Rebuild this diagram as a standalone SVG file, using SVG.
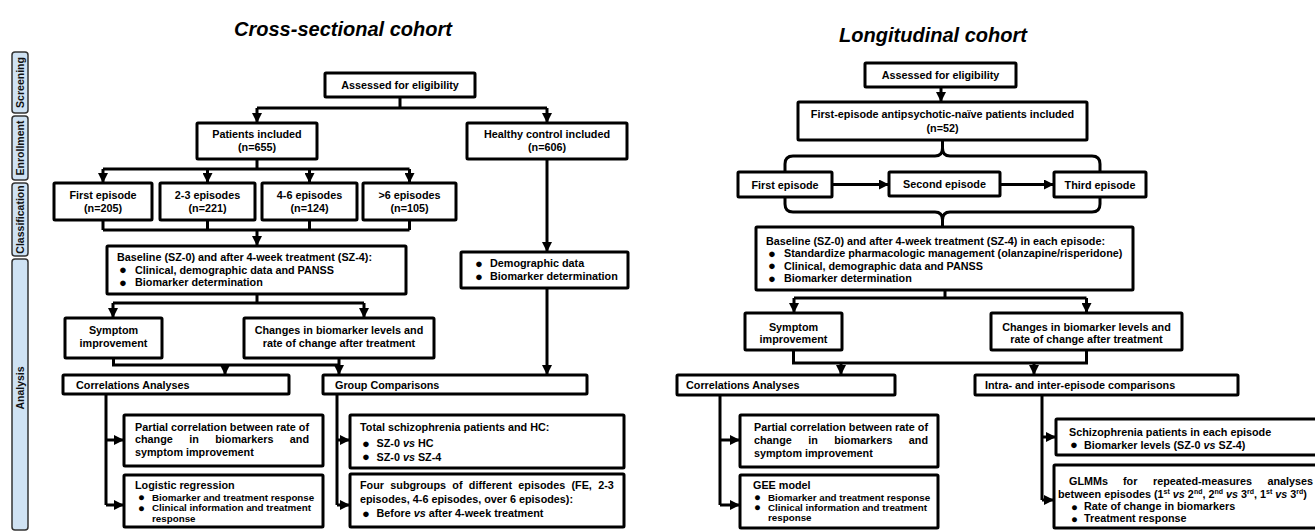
<svg xmlns="http://www.w3.org/2000/svg" width="1315" height="531" viewBox="0 0 1315 531">
<defs>
<style>
.box{fill:#fff;stroke:#000;stroke-width:3}
.stage{fill:#cfe2f3;stroke:#333;stroke-width:1.5}
.t{font-family:"Liberation Sans",Arial,sans-serif;font-weight:bold;font-size:10.8px;fill:#000}
.s{font-size:9.8px}
.b{font-family:"Liberation Sans",Arial,sans-serif;font-size:13px;fill:#000}
.bs{font-family:"Liberation Sans",Arial,sans-serif;font-size:11.5px;fill:#000}
.c{text-anchor:middle}
.e{text-anchor:end}
.i{font-style:italic}
.st{font-family:"Liberation Sans",Arial,sans-serif;font-weight:bold;font-size:10.5px;fill:#111;text-anchor:middle}
.title{font-family:"Liberation Sans",Arial,sans-serif;font-weight:bold;font-style:italic;font-size:21px;text-anchor:middle;fill:#000}
.ln{fill:none;stroke:#000;stroke-width:3}
.ar{fill:none;stroke:#000;stroke-width:3;marker-end:url(#ah)}
</style>
<marker id="ah" viewBox="0 0 10 10" refX="10" refY="5" markerWidth="10" markerHeight="10" markerUnits="userSpaceOnUse" orient="auto"><path d="M0,0 L10,5 L0,10 z" fill="#000"/></marker>
</defs>
<rect width="1315" height="531" fill="#fff"/>

<g id="titles">
<text class="title" x="343" y="36" textLength="218" lengthAdjust="spacingAndGlyphs">Cross-sectional cohort</text>
<text class="title" x="933" y="42" textLength="188" lengthAdjust="spacingAndGlyphs">Longitudinal cohort</text>
</g>

<g id="stages">
<g id="stage-screening"><rect class="stage" x="12" y="52" width="16" height="61" rx="3"/><text class="st" transform="rotate(-90 20.5 82.5)" x="20.5" y="82.5" dy="0.36em">Screening</text></g>
<g id="stage-enrollment"><rect class="stage" x="12" y="116" width="16" height="64" rx="3"/><text class="st" transform="rotate(-90 20.5 148)" x="20.5" y="148" dy="0.36em">Enrollment</text></g>
<g id="stage-classification"><rect class="stage" x="12" y="183" width="16" height="73" rx="3"/><text class="st" transform="rotate(-90 20.5 219.5)" x="20.5" y="219.5" dy="0.36em">Classification</text></g>
<g id="stage-analysis"><rect class="stage" x="12" y="259" width="16" height="271" rx="3"/><text class="st" transform="rotate(-90 20.5 388)" x="20.5" y="388" dy="0.36em">Analysis</text></g>
</g>

<!-- Cross-sectional nodes -->
<g id="cs-assessed"><rect class="box" x="325" y="73" width="150" height="24" rx="1"/><text class="t c" x="400" y="89">Assessed for eligibility</text></g>
<g id="cs-patients"><rect class="box" x="197" y="123" width="120" height="36" rx="1"/><text class="t c" x="257" y="138">Patients included</text><text class="t c" x="257" y="151">(n=655)</text></g>
<g id="cs-healthy"><rect class="box" x="467" y="123" width="160" height="36" rx="1"/><text class="t c" x="547" y="138">Healthy control included</text><text class="t c" x="547" y="151">(n=606)</text></g>
<g id="cs-first"><rect class="box" x="54" y="183" width="98" height="37" rx="1"/><text class="t c" x="103" y="199">First episode</text><text class="t c" x="103" y="211.5">(n=205)</text></g>
<g id="cs-23"><rect class="box" x="160" y="183" width="95" height="37" rx="1"/><text class="t c" x="207.5" y="199">2-3 episodes</text><text class="t c" x="207.5" y="211.5">(n=221)</text></g>
<g id="cs-46"><rect class="box" x="262" y="183" width="95" height="37" rx="1"/><text class="t c" x="309.5" y="199">4-6 episodes</text><text class="t c" x="309.5" y="211.5">(n=124)</text></g>
<g id="cs-6"><rect class="box" x="363" y="183" width="93" height="37" rx="1"/><text class="t c" x="409.5" y="199">&gt;6 episodes</text><text class="t c" x="409.5" y="211.5">(n=105)</text></g>
<g id="cs-baseline"><rect class="box" x="107" y="246" width="299" height="48" rx="1"/>
<text class="t" x="117" y="261">Baseline (SZ-0) and after 4-week treatment (SZ-4):</text>
<text class="b" x="119" y="274">●</text><text class="t" x="135" y="273.5">Clinical, demographic data and PANSS</text>
<text class="b" x="119" y="286.5">●</text><text class="t" x="135" y="286">Biomarker determination</text></g>
<g id="cs-demographic"><rect class="box" x="461" y="252" width="167" height="36" rx="1"/>
<text class="b" x="475" y="267.5">●</text><text class="t" x="490" y="267">Demographic data</text>
<text class="b" x="475" y="280.5">●</text><text class="t" x="490" y="280">Biomarker determination</text></g>
<g id="cs-symptom"><rect class="box" x="65" y="318" width="97" height="40" rx="1"/><text class="t c" x="113.5" y="334">Symptom</text><text class="t c" x="113.5" y="346.5">improvement</text></g>
<g id="cs-changes"><rect class="box" x="244" y="318" width="190" height="40" rx="1"/><text class="t c" x="339" y="334">Changes in biomarker levels and</text><text class="t c" x="339" y="346.5">rate of change after treatment</text></g>
<g id="cs-correlations"><rect class="box" x="63" y="375" width="226" height="19" rx="1"/><text class="t" x="76" y="388.5">Correlations Analyses</text></g>
<g id="cs-group"><rect class="box" x="323" y="375" width="264" height="19" rx="1"/><text class="t" x="335" y="388.5">Group Comparisons</text></g>
<g id="cs-partial"><rect class="box" x="124" y="415" width="199" height="51" rx="1"/>
<text class="t" x="135" y="430.5">Partial correlation between rate of</text>
<text class="t" y="443"><tspan x="135">change</tspan><tspan x="189.2">in</tspan><tspan x="215.2">biomarkers</tspan></text><text class="t e" x="309" y="443">and</text>
<text class="t" x="135" y="455.5">symptom improvement</text></g>
<g id="cs-logistic"><rect class="box" x="124" y="475" width="199" height="52" rx="1"/>
<text class="t" x="135" y="489">Logistic regression</text>
<text class="bs" x="138" y="501">●</text><text class="t s" x="152" y="500.5">Biomarker and treatment response</text>
<text class="bs" x="138" y="511.5">●</text><text class="t s" x="152" y="511">Clinical information and treatment</text>
<text class="t s" x="152" y="521.5">response</text></g>
<g id="cs-total"><rect class="box" x="350" y="415" width="274" height="53" rx="1"/>
<text class="t" x="360" y="430.5">Total schizophrenia patients and HC:</text>
<text class="b" x="362" y="447.5">●</text><text class="t" x="376.5" y="447">SZ-0 <tspan class="i">vs</tspan> HC</text>
<text class="b" x="362" y="461">●</text><text class="t" x="376.5" y="460.5">SZ-0 <tspan class="i">vs</tspan> SZ-4</text></g>
<g id="cs-four"><rect class="box" x="350" y="474" width="274" height="53" rx="1"/>
<text class="t" x="360" y="489" word-spacing="3.3">Four subgroups of different episodes (FE, 2-3</text>
<text class="t" x="360" y="502.5">episodes, 4-6 episodes, over 6 episodes):</text>
<text class="b" x="362" y="517.5">●</text><text class="t" x="376.5" y="517">Before <tspan class="i">vs</tspan> after 4-week treatment</text></g>

<!-- Longitudinal nodes -->
<g id="l-assessed"><rect class="box" x="865" y="63" width="151" height="24" rx="1"/><text class="t c" x="940.5" y="79">Assessed for eligibility</text></g>
<g id="l-included"><rect class="box" x="798" y="102" width="289" height="38" rx="1"/><text class="t c" x="942.5" y="118">First-episode antipsychotic-naïve patients included</text><text class="t c" x="942.5" y="131.5">(n=52)</text></g>
<g id="l-first"><rect class="box" x="738" y="172" width="94" height="25" rx="1"/><text class="t c" x="785" y="188.5">First episode</text></g>
<g id="l-second"><rect class="box" x="889" y="172" width="111" height="24" rx="1"/><text class="t c" x="944.5" y="188">Second episode</text></g>
<g id="l-third"><rect class="box" x="1054" y="172" width="92" height="25" rx="1"/><text class="t c" x="1100" y="188.5">Third episode</text></g>
<g id="l-baseline"><rect class="box" x="756" y="227" width="377" height="63" rx="1"/>
<text class="t" x="766" y="244.5">Baseline (SZ-0) and after 4-week treatment (SZ-4) in each episode:</text>
<text class="b" x="768" y="257.5">●</text><text class="t" x="784" y="257">Standardize pharmacologic management (olanzapine/risperidone)</text>
<text class="b" x="768" y="270">●</text><text class="t" x="784" y="269.5">Clinical, demographic data and PANSS</text>
<text class="b" x="768" y="282.5">●</text><text class="t" x="784" y="282">Biomarker determination</text></g>
<g id="l-symptom"><rect class="box" x="745" y="313" width="97" height="37" rx="1"/><text class="t c" x="793.5" y="330.5">Symptom</text><text class="t c" x="793.5" y="342.5">improvement</text></g>
<g id="l-changes"><rect class="box" x="991" y="313" width="191" height="37" rx="1"/><text class="t c" x="1086.5" y="330.5">Changes in biomarker levels and</text><text class="t c" x="1086.5" y="342.5">rate of change after treatment</text></g>
<g id="l-correlations"><rect class="box" x="677" y="375" width="218" height="20" rx="1"/><text class="t" x="686" y="389">Correlations Analyses</text></g>
<g id="l-intra"><rect class="box" x="975" y="375" width="263" height="20" rx="1"/><text class="t" x="985" y="389">Intra- and inter-episode comparisons</text></g>
<g id="l-partial"><rect class="box" x="740" y="415" width="198" height="52" rx="1"/>
<text class="t" x="754" y="430.5">Partial correlation between rate of</text>
<text class="t" y="444"><tspan x="754">change</tspan><tspan x="808.2">in</tspan><tspan x="834.2">biomarkers</tspan></text><text class="t e" x="928" y="444">and</text>
<text class="t" x="754" y="457">symptom improvement</text></g>
<g id="l-gee"><rect class="box" x="740" y="475" width="198" height="53" rx="1"/>
<text class="t" x="753" y="489">GEE model</text>
<text class="bs" x="754" y="501">●</text><text class="t s" x="768" y="500.5">Biomarker and treatment response</text>
<text class="bs" x="754" y="511">●</text><text class="t s" x="768" y="510.5">Clinical information and treatment</text>
<text class="t s" x="768" y="520.5">response</text></g>
<g id="l-schizo"><rect class="box" x="1056" y="419" width="262" height="36" rx="1"/>
<text class="t" x="1069" y="436">Schizophrenia patients in each episode</text>
<text class="b" x="1070" y="449">●</text><text class="t" x="1084" y="448.5">Biomarker levels (SZ-0 <tspan class="i">vs</tspan> SZ-4)</text></g>
<g id="l-glmm"><rect class="box" x="1054" y="465" width="264" height="63" rx="1"/>
<text class="t" y="485"><tspan x="1069">GLMMs</tspan><tspan x="1123">for</tspan><tspan x="1153">repeated-measures</tspan></text><text class="t e" x="1313" y="485">analyses</text>
<text class="t" x="1058" y="497.5">between episodes (1<tspan dy="-3.5" font-size="7">st</tspan><tspan dy="3.5"> </tspan><tspan class="i">vs</tspan> 2<tspan dy="-3.5" font-size="7">nd</tspan><tspan dy="3.5">, 2</tspan><tspan dy="-3.5" font-size="7">nd</tspan><tspan dy="3.5"> </tspan><tspan class="i">vs</tspan> 3<tspan dy="-3.5" font-size="7">rd</tspan><tspan dy="3.5">, 1</tspan><tspan dy="-3.5" font-size="7">st</tspan><tspan dy="3.5"> </tspan><tspan class="i">vs</tspan> 3<tspan dy="-3.5" font-size="7">rd</tspan><tspan dy="3.5">)</tspan></text>
<text class="bs" x="1071" y="510.5">●</text><text class="t" x="1084" y="510">Rate of change in biomarkers</text>
<text class="bs" x="1071" y="522.5">●</text><text class="t" x="1084" y="522">Treatment response</text></g>

<g id="connectors">
<!-- cross-sectional -->
<path class="ln" d="M400,97 V108 M257,108 H547"/>
<path class="ar" d="M257,108 V123"/>
<path class="ar" d="M547,108 V123"/>
<path class="ln" d="M257,159 V169 M103,169 H409.5"/>
<path class="ar" d="M103,169 V183"/>
<path class="ar" d="M207.5,169 V183"/>
<path class="ar" d="M309.5,169 V183"/>
<path class="ar" d="M409.5,169 V183"/>
<path class="ln" d="M103,220 V230 M207.5,220 V230 M309.5,220 V230 M409.5,220 V230 M103,230 H409.5"/>
<path class="ar" d="M257,230 V246"/>
<path class="ln" d="M257,294 V303 M113,303 H364"/>
<path class="ar" d="M113,303 V318"/>
<path class="ar" d="M364,303 V318"/>
<path class="ln" d="M113.5,358 V365 H339"/>
<path class="ar" d="M225,365 V375"/>
<path class="ar" d="M339,358 V375"/>
<path class="ar" d="M547,159 V252"/>
<path class="ar" d="M547,288 V375"/>
<path class="ln" d="M106,394 V505"/>
<path class="ar" d="M106,440 H124"/>
<path class="ar" d="M106,505 H124"/>
<path class="ln" d="M337,394 V505"/>
<path class="ar" d="M337,440 H350"/>
<path class="ar" d="M337,505 H350"/>
<!-- longitudinal -->
<path class="ar" d="M941,87 V102"/>
<path class="ln" d="M785,172 V164 Q785,156 793,156 H935 Q942.5,156 942.5,148 V140 M942.5,148 Q942.5,156 950,156 H1092 Q1100,156 1100,164 V172"/>
<path class="ar" d="M832,184.5 H889"/>
<path class="ar" d="M1000,184.5 H1054"/>
<path class="ln" d="M785,197 V204 Q785,212 793,212 H935 Q942.5,212 942.5,220 V227 M942.5,220 Q942.5,212 950,212 H1092 Q1100,212 1100,204 V197"/>
<path class="ln" d="M945,290 V298 M794,298 H1086.5"/>
<path class="ar" d="M794,298 V313"/>
<path class="ar" d="M1086.5,298 V313"/>
<path class="ln" d="M793.5,350 V363 H1086.5 V350"/>
<path class="ar" d="M841,363 V375"/>
<path class="ar" d="M1034,363 V375"/>
<path class="ln" d="M720,395 V505"/>
<path class="ar" d="M720,440 H740"/>
<path class="ar" d="M720,505 H740"/>
<path class="ln" d="M1042,395 V500"/>
<path class="ar" d="M1042,437 H1056"/>
<path class="ar" d="M1042,500 H1054"/>
</g>
</svg>
